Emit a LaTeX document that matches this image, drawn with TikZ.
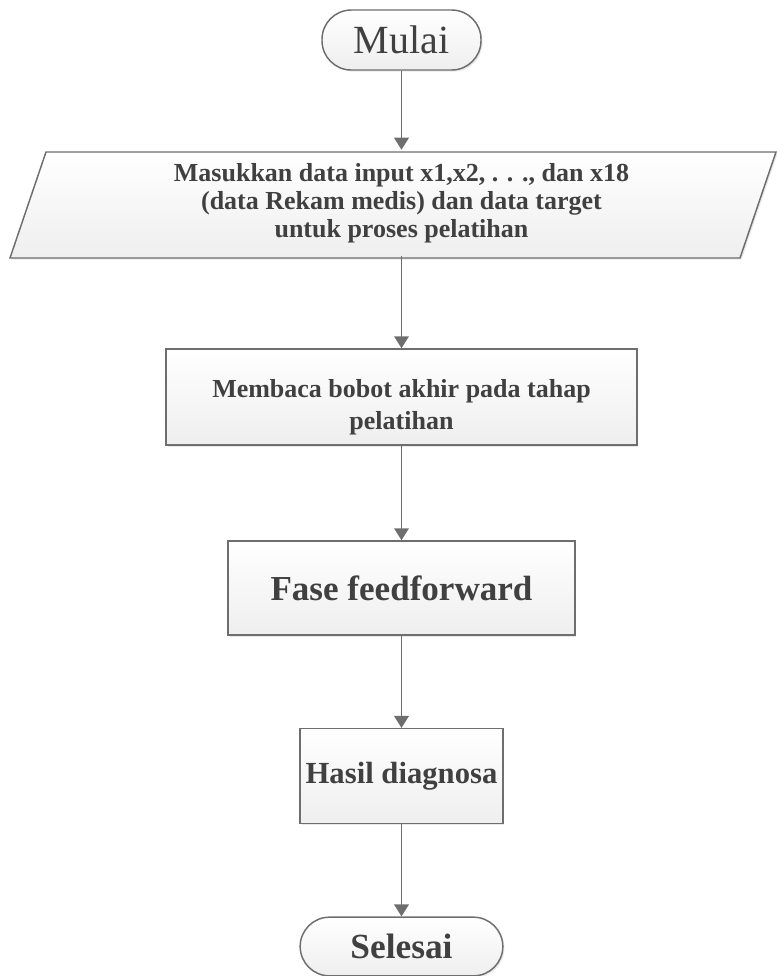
\documentclass[tikz,border=0pt]{standalone}
\usepackage{fontspec}
\setmainfont{Liberation Serif}
\usetikzlibrary{arrows.meta,shadows}
\definecolor{edge}{HTML}{6E6E6E}
\definecolor{ink}{HTML}{404040}
\tikzset{
  boxlook/.style={draw=edge, line width=1.1pt, top color=white, bottom color=gray!13,
    drop shadow={shadow xshift=1.2pt, shadow yshift=-1.2pt, opacity=0.18}},
  box/.style={boxlook, text=ink, font=\bfseries, align=center, inner sep=0pt},
  terminal/.style={box, rounded corners=22pt},
  flow/.style={draw=edge, line width=1.1pt, -{Triangle[length=9pt,width=11pt]}},
}
\begin{document}
\begin{tikzpicture}[x=0.75pt,y=-0.75pt]
\useasboundingbox (0,0) rectangle (777,976);
% start terminal
\node[terminal, font=\fontsize{30}{34}\selectfont, minimum width=119.25pt, minimum height=45pt]
  (mulai) at (401.5,40) {Mulai};
% input parallelogram (right corner runs off the page)
\path[boxlook] (46,152) -- (776,152) -- (740,258) -- (10,258) -- cycle;
\node[text=ink, font=\bfseries\fontsize{19.5}{21}\selectfont, align=center,
  minimum height=79.5pt, inner sep=0pt]
  (input) at (401.5,203) {Masukkan data input x1,x2, . . ., dan x18\\(data Rekam medis) dan data target\\untuk proses pelatihan};
\node[box, font=\bfseries\fontsize{19.5}{24}\selectfont, minimum width=353pt, minimum height=72pt,
  text depth=0pt]
  (baca) at (401.5,397) {\raisebox{3.5pt}{\begin{tabular}{@{}c@{}}Membaca bobot akhir pada tahap\\[-0.5pt]pelatihan\end{tabular}}};
\node[box, font=\bfseries\fontsize{26.3}{30}\selectfont, minimum width=260pt, minimum height=70.5pt]
  (ff) at (401.5,588) {Fase feedforward};
\node[box, font=\bfseries\fontsize{23}{28}\selectfont, minimum width=152pt, minimum height=71pt]
  (hasil) at (401.5,776) {Hasil diagnosa};
% end terminal
\node[terminal, font=\bfseries\fontsize{26.5}{30}\selectfont, minimum width=152pt, minimum height=44pt]
  (selesai) at (401.5,946.5) {Selesai};
% connectors
\draw[flow] (mulai.south) -- (input.north);
\draw[flow] (input.south) -- (baca.north);
\draw[flow] (baca.south) -- (ff.north);
\draw[flow] (ff.south) -- (hasil.north);
\draw[flow] (hasil.south) -- (selesai.north);
\end{tikzpicture}
\end{document}
